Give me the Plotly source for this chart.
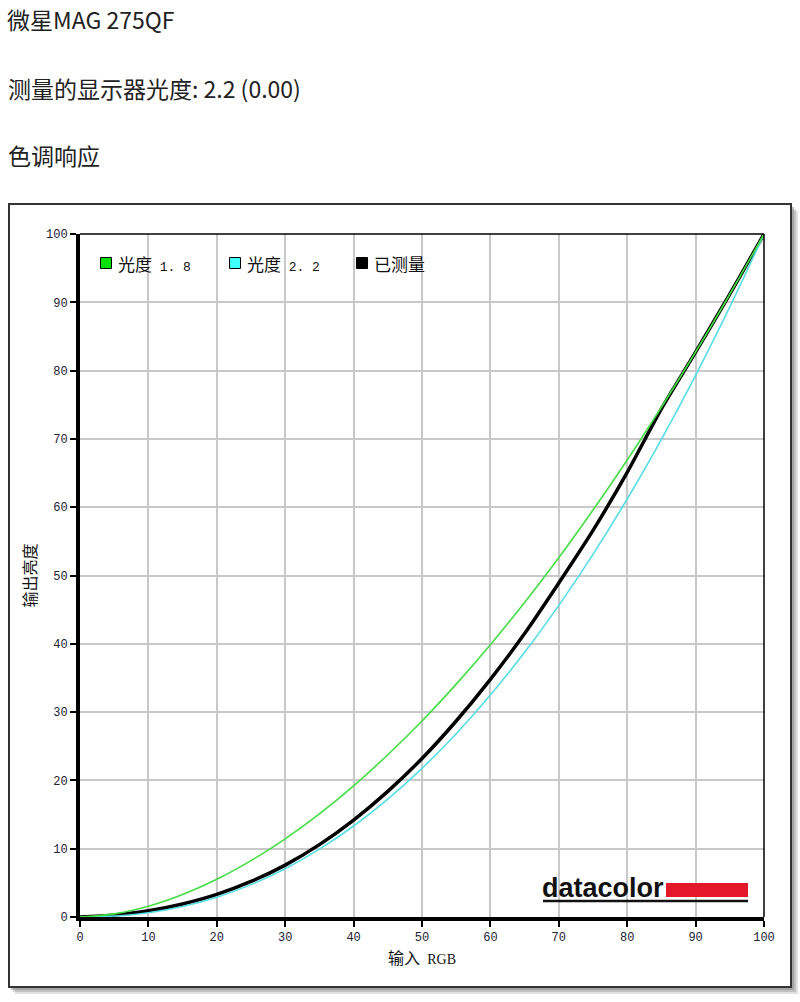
import plotly.graph_objects as go

# ---------------- data ----------------
x_rgb = [0, 5, 10, 15, 20, 25, 30, 35, 40, 45, 50, 55, 60, 65, 70, 75, 80, 85, 90, 95, 100]
gamma_18 = [0, 0.46, 1.58, 3.29, 5.52, 8.25, 11.45, 15.1, 19.2, 23.76, 28.7, 34.1, 39.87,
            46.05, 52.6, 59.58, 66.92, 74.64, 82.72, 91.18, 100]
gamma_22 = [0, 0.14, 0.63, 1.54, 2.9, 4.74, 7.07, 9.93, 13.32, 17.26, 21.76, 26.84, 32.5,
            38.76, 45.63, 53.1, 61.2, 69.94, 79.31, 89.33, 100]
measured = [0, 0.3, 0.9, 1.9, 3.3, 5.2, 7.6, 10.6, 14.2, 18.4, 23.2, 28.7, 34.8,
            41.5, 48.9, 56.6, 65.1, 74.4, 82.7, 91.2, 100]
tick_vals = [0, 10, 20, 30, 40, 50, 60, 70, 80, 90, 100]
legend_names = ["光度 1.8", "光度 2.2", "已测量"]
title_lines = ["微星MAG 275QF", "测量的显示器光度: 2.2 (0.00)", "色调响应"]

W, H = 800, 1002
L, R, T, B = 80, 764, 234, 917  # plot area (page px)

def px(xp):  # page px -> paper
    return (xp - L) / (R - L)

def py(yp):
    return (B - yp) / (B - T)

CJK = "Noto Sans CJK SC"
MONO = "Liberation Mono"

fig = go.Figure()
fig.add_trace(go.Scatter(x=x_rgb, y=measured, mode="lines",
                         line=dict(color="#000000", width=3.5, shape="spline", smoothing=0.8),
                         showlegend=False, hoverinfo="skip"))
fig.add_trace(go.Scatter(x=x_rgb, y=gamma_22, mode="lines", line=dict(color="#55dde6", width=1.6, shape="spline"),
                         showlegend=False, hoverinfo="skip"))
fig.add_trace(go.Scatter(x=x_rgb, y=gamma_18, mode="lines", line=dict(color="#44dd44", width=1.6, shape="spline"),
                         showlegend=False, hoverinfo="skip"))

shapes = []
# shadow + frame
for off, op in [(7, 0.25), (5, 0.35), (3, 0.5)]:
    shapes.append(dict(type="rect", xref="paper", yref="paper", layer="below",
                       x0=px(8 + off), x1=px(791 + off), y0=py(987 + off), y1=py(204 + off),
                       fillcolor="#888888", opacity=op, line=dict(width=0)))
shapes.append(dict(type="rect", xref="paper", yref="paper", layer="below",
                   x0=px(9), x1=px(791), y0=py(987), y1=py(204),
                   fillcolor="#ffffff", line=dict(color="#333333", width=2)))
# top and right thin border of plot area
shapes.append(dict(type="line", xref="paper", yref="paper", x0=0, x1=1, y0=1, y1=1,
                   line=dict(color="#000000", width=1.5)))
shapes.append(dict(type="line", xref="paper", yref="paper", x0=1, x1=1, y0=0, y1=1,
                   line=dict(color="#000000", width=1.5)))
# legend squares
leg_colors = ["#00e000", "#40ffff", "#000000"]
leg_x = [106, 235, 362]
leg_y = 263
for cx, col in zip(leg_x, leg_colors):
    shapes.append(dict(type="rect", xref="paper", yref="paper",
                       x0=px(cx - 5.5), x1=px(cx + 5.5), y0=py(leg_y + 5.5), y1=py(leg_y - 5.5),
                       fillcolor=col, line=dict(color="#000000", width=1)))
# datacolor logo parts
shapes.append(dict(type="rect", xref="paper", yref="paper", x0=px(666), x1=px(748), y0=py(897), y1=py(883),
                   fillcolor="#e3192a", line=dict(width=0)))
shapes.append(dict(type="line", xref="paper", yref="paper", x0=px(543), x1=px(748), y0=py(901), y1=py(901),
                   line=dict(color="#111111", width=2.5)))

annotations = []
annotations.append(dict(text=title_lines[0], xref="paper", yref="paper", x=px(6), y=py(1), xanchor="left",
                        yanchor="top", showarrow=False, borderpad=0,
                        font=dict(family=CJK, size=23, color="#222222")))
for txt, yy in zip(title_lines[1:], [88, 155]):
    annotations.append(dict(text=txt, xref="paper", yref="paper", x=px(6), y=py(yy), xanchor="left",
                            yanchor="middle", showarrow=False,
                            font=dict(family=CJK, size=23, color="#222222")))
for name, cx in zip(legend_names, leg_x):
    parts = name.split(" ")
    if len(parts) == 2:
        txt = parts[0] + "&nbsp;&nbsp;<span style=\"font-family:'%s';font-size:13px\">%s</span>" % (MONO, parts[1].replace(".", ". "))
    else:
        txt = name
    annotations.append(dict(text=txt, xref="paper", yref="paper", x=px(cx + 10), y=py(leg_y), xanchor="left",
                            yanchor="middle", showarrow=False,
                            font=dict(family=CJK, size=17, color="#111111")))
annotations.append(dict(text="<b>datacolor</b>", xref="paper", yref="paper", x=px(540), y=py(888),
                        xanchor="left", yanchor="middle", showarrow=False,
                        font=dict(family="Liberation Sans", size=27, color="#111111")))

fig.update_layout(
    width=W, height=H,
    margin=dict(l=L, r=W - R, t=T, b=H - B, pad=0),
    paper_bgcolor="#ffffff", plot_bgcolor="rgba(0,0,0,0)",
    shapes=shapes, annotations=annotations,
    showlegend=False,
)
axis_common = dict(range=[0, 100], tickvals=tick_vals, ticks="outside", ticklen=6, tickwidth=1.5,
                   tickcolor="#000000", showline=True, linecolor="#000000", linewidth=4,
                   showgrid=True, gridcolor="#c8c8c8", gridwidth=1.5, zeroline=False,
                   tickfont=dict(family=MONO, size=12, color="#222233"), fixedrange=True)
fig.update_xaxes(**axis_common,
                 title=dict(text="输入&nbsp;&nbsp;<span style=\"font-family:'Liberation Serif';font-size:14px\">RGB</span>",
                            font=dict(family=CJK, size=16, color="#111111"), standoff=8))
fig.update_yaxes(**axis_common,
                 title=dict(text="输出亮度", font=dict(family=CJK, size=16, color="#111111"), standoff=6))

fig.write_html("out.html", config={"displayModeBar": False},
               post_script="document.body.style.margin='0';document.body.style.overflow='hidden';")
